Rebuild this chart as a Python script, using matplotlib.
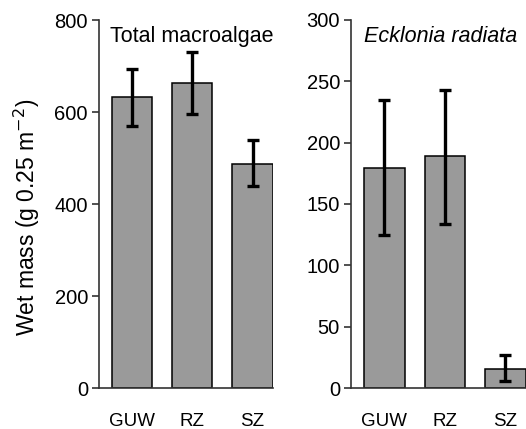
import numpy as np
import matplotlib
matplotlib.use("Agg")
import matplotlib.pyplot as plt

plt.rcParams['font.family'] = ['Liberation Sans', 'DejaVu Sans']

sites = ["GUW", "RZ", "SZ"]

total_mean = [632, 664, 488]
total_hi = [693, 731, 539]
total_lo = [570, 596, 439]

eck_mean = [179.5, 189, 15.8]
eck_hi = [234.5, 243, 26.5]
eck_lo = [124.5, 134, 6]

fig = plt.figure(figsize=(5.26, 4.29), dpi=100)
ax1 = fig.add_axes([99 / 526, 41 / 429, 174 / 526, 368 / 429])
ax2 = fig.add_axes([351 / 526, 41 / 429, 175 / 526, 368 / 429])


def panel(ax, mean, hi, lo, ymax, step, title, style, tx):
    x = np.arange(len(sites))
    mean = np.array(mean)
    err = [mean - np.array(lo), np.array(hi) - mean]
    ax.bar(x, mean, width=0.67, color="#9a9a9a", edgecolor="black", linewidth=1.1, zorder=2)
    ax.errorbar(x, mean, yerr=err, fmt="none", ecolor="black", elinewidth=2.4,
                capsize=4, capthick=2.4, zorder=3)
    ax.set_xlim(-0.55, 2.34)
    ax.set_ylim(0, ymax)
    ax.set_yticks(np.arange(0, ymax + 1, step))
    ax.set_xticks(x)
    ax.set_xticklabels(sites)
    ax.tick_params(axis="x", length=0, pad=18, labelsize=13.5)
    ax.tick_params(axis="y", length=5, width=1.2, labelsize=14.5, pad=3, color="#333333")
    for s in ["top", "right"]:
        ax.spines[s].set_visible(False)
    for s in ["left", "bottom"]:
        ax.spines[s].set_linewidth(1.2)
        ax.spines[s].set_color("#333333")
    ax.text(tx, 0.985, title, transform=ax.transAxes, ha="left", va="top",
            fontsize=15.5, style=style, clip_on=False)


panel(ax1, total_mean, total_hi, total_lo, 800, 200, "Total macroalgae", "normal", 0.065)
panel(ax2, eck_mean, eck_hi, eck_lo, 300, 50, "Ecklonia radiata", "italic", 0.075)

ax1.set_ylabel("Wet mass (g 0.25 m$^{-2}$)", fontsize=16.5)
ax1.yaxis.set_label_coords(-0.33, 0.465)

fig.savefig("out.png", dpi=100)
